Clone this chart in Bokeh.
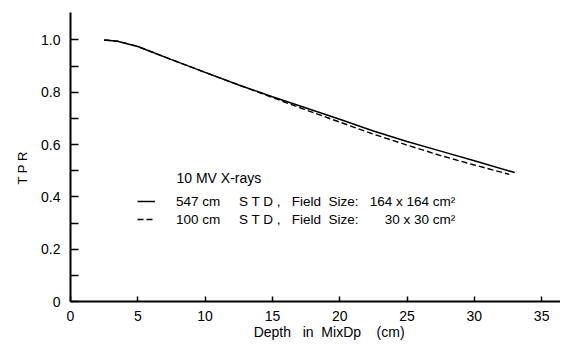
from bokeh.plotting import figure
from bokeh.models import (Range1d, FixedTicker, CustomJSTickFormatter, Label,
                          Legend, LegendItem)
from bokeh.embed import file_html
from bokeh.resources import INLINE
from bokeh.core.properties import value

# ---- data ----
depth_547 = [2.5, 3.5, 5, 7.5, 10, 12.5, 15, 17.5, 20, 22.5, 25, 27.5, 30, 33]
tpr_547 = [1.000, 0.995, 0.975, 0.925, 0.876, 0.828, 0.783, 0.740, 0.697,
           0.652, 0.612, 0.575, 0.538, 0.493]
depth_100 = [2.5, 3.5, 5, 7.5, 10, 12.5, 15, 17.5, 20, 22.5, 25, 27.5, 30, 32.6]
tpr_100 = [1.000, 0.995, 0.975, 0.925, 0.876, 0.828, 0.780, 0.732, 0.686,
           0.640, 0.598, 0.558, 0.522, 0.486]

x_ticks = [0, 5, 10, 15, 20, 25, 30, 35]
y_ticks = [0, 0.2, 0.4, 0.6, 0.8, 1.0]
y_minor_ticks = [0.1, 0.3, 0.5, 0.7, 0.9]

title_text = "10 MV X-rays"
NB = "\u00a0"
label_547 = f"547 cm{NB*5}S T D ,{NB*3}Field{NB*2}Size:{NB*3}164 x 164 cm²"
label_100 = f"100 cm{NB*5}S T D ,{NB*3}Field{NB*2}Size:{NB*7}30 x 30 cm²"
x_title = f"{NB*7}Depth{NB*3}in{NB*2}MixDp{NB*4}(cm)"
y_title = f"T P R{NB*6}"

FONT = "Liberation Sans"

p = figure(width=560, height=342,
           x_range=Range1d(0, 36.4), y_range=Range1d(0, 1.105),
           output_backend="svg", toolbar_location=None,
           min_border_left=70, min_border_right=0,
           min_border_top=12, min_border_bottom=40)

p.outline_line_color = None
p.xgrid.visible = False
p.ygrid.visible = False
p.background_fill_color = "white"
p.border_fill_color = "white"

# axes
for ax in (p.xaxis[0], p.yaxis[0]):
    ax.axis_line_width = 2
    ax.axis_line_color = "black"
    ax.major_tick_line_color = "black"
    ax.minor_tick_line_color = "black"
    ax.major_tick_line_width = 1.5
    ax.minor_tick_line_width = 1.5
    ax.major_tick_out = 0
    ax.minor_tick_out = 0
    ax.major_label_text_font = FONT
    ax.major_label_text_font_size = "14px"
    ax.major_label_text_color = "black"
    ax.axis_label_text_font = FONT
    ax.axis_label_text_font_style = "normal"
    ax.axis_label_text_color = "black"

p.xaxis.ticker = FixedTicker(ticks=x_ticks, minor_ticks=[])
p.xaxis.major_tick_in = 5
p.xaxis.minor_tick_in = 0
p.xaxis.major_label_standoff = 9
p.xaxis.axis_label = x_title
p.xaxis.axis_label_text_font_size = "14px"
p.xaxis.axis_label_standoff = 0

p.yaxis.ticker = FixedTicker(ticks=y_ticks, minor_ticks=y_minor_ticks)
p.yaxis.major_tick_in = 8
p.yaxis.minor_tick_in = 8
p.yaxis.major_label_standoff = 10
p.yaxis.formatter = CustomJSTickFormatter(
    code="return tick == 0 ? '0' : tick.toFixed(1);")
p.yaxis.axis_label = y_title
p.yaxis.axis_label_text_font_size = "13px"
p.yaxis.axis_label_standoff = 8

# curves
r100 = p.line(depth_100, tpr_100, line_color="black", line_width=1.4,
              line_dash="6 3")
r547 = p.line(depth_547, tpr_547, line_color="black", line_width=1.5)

# legend
legend = Legend(items=[LegendItem(label=value(label_547), renderers=[r547]),
                       LegendItem(label=value(label_100), renderers=[r100])],
                location=(67, 73), orientation="vertical",
                glyph_width=18, glyph_height=18, label_height=18,
                label_width=10, spacing=-4, padding=0, margin=0,
                label_standoff=21, border_line_color=None,
                background_fill_alpha=0,
                label_text_font=FONT, label_text_font_size="13.5px",
                label_text_color="black")
p.add_layout(legend)

p.add_layout(Label(x=106, y=124, x_units="screen", y_units="screen",
                   text=title_text, text_font=FONT,
                   text_font_size="14px", text_align="left",
                   text_baseline="middle", text_color="black"))

open("out.html", "w").write(file_html(p, INLINE))
